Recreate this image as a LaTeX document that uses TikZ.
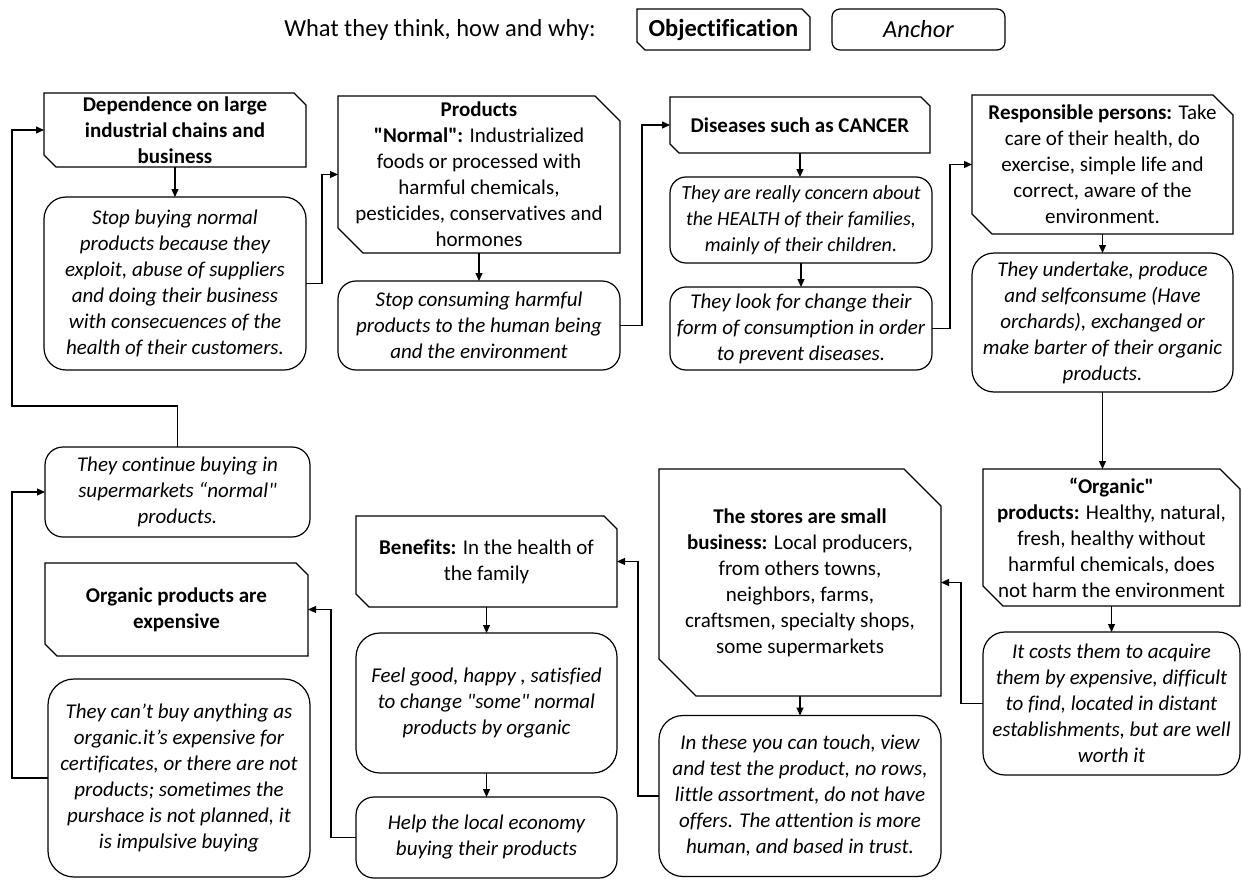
\documentclass[tikz,border=0pt]{standalone}
\usepackage{fontspec}
\setmainfont{Carlito}[Ligatures={TeXOff,CommonOff}]
\usetikzlibrary{arrows.meta,calc}
\newcommand{\fs}{\fontsize{21}{26}\selectfont}
\newcommand{\sfs}{\fontsize{20}{26}\selectfont}
\newcommand{\hfs}{\fontsize{24.5}{28}\selectfont}
\newcommand{\chbox}[2]{\draw[boxline] (#1.north west) -- ([xshift=-#2]#1.north east) -- ([yshift=-#2]#1.north east) -- (#1.south east) -- ([xshift=#2]#1.south west) -- ([yshift=#2]#1.south west) -- cycle;}
\tikzset{
  base/.style={inner sep=0pt, outer sep=0pt, align=center, font=\fs, rectangle},
  objbox/.style={base},
  ancbox/.style={base, draw, line width=1.2pt, rounded corners=18pt, font=\fs\itshape},
  boxline/.style={line width=1.2pt},
  arr/.style={line width=1.2pt, -{Triangle[length=8pt,width=7pt]}},
}
\begin{document}
\begin{tikzpicture}[x=1pt,y=-1pt]
\useasboundingbox (0,0) rectangle (1242,880);
% header
\node[base, font=\hfs] (hd) at (440,30) {What they think, how and why:};
\node[objbox, font=\hfs, minimum width=173pt, minimum height=41pt] (ko) at (723.5,29.5) {\textbf{Objectification}};
\chbox{ko}{8pt}
\node[ancbox, font=\hfs\itshape, rounded corners=8pt, minimum width=173pt, minimum height=41pt] (ka) at (918.5,29.5) {Anchor};
% top row
\node[objbox, minimum width=262pt, minimum height=74pt] (b1) at (175,130) {\textbf{Dependence on large}\\\textbf{industrial chains and}\\\textbf{business}};
\chbox{b1}{12pt}
\node[ancbox, rounded corners=22pt, minimum width=262pt, minimum height=173pt] (b2) at (175,283.5) {Stop buying normal\\products because they\\exploit, abuse of suppliers\\and doing their business\\with consecuences of the\\health of their customers.};
\node[objbox, minimum width=282pt, minimum height=157pt] (b3) at (479,174.5) {\textbf{Products}\\\textbf{"Normal":} Industrialized\\foods or processed with\\harmful chemicals,\\pesticides, conservatives and\\hormones};
\chbox{b3}{25pt}
\node[ancbox, minimum width=282pt, minimum height=89pt] (b4) at (479,325.5) {Stop consuming harmful\\products to the human being\\and the environment};
\node[objbox, minimum width=260pt, minimum height=56pt] (b5) at (800,125) {\textbf{Diseases such as CANCER}};
\chbox{b5}{9pt}
\node[ancbox, font=\sfs\itshape, rounded corners=16pt, minimum width=262pt, minimum height=86pt] (b6) at (801,220) {They are really concern about\\the HEALTH of their families,\\mainly of their children.};
\node[ancbox, rounded corners=16pt, minimum width=262pt, minimum height=83pt] (b7) at (801,328.5) {They look for change their\\form of consumption in order\\to prevent diseases.};
\node[objbox, minimum width=261pt, minimum height=139pt] (b8) at (1102.5,164.5) {\textbf{Responsible persons:} Take\\care of their health, do\\exercise, simple life and\\correct, aware of the\\environment.};
\chbox{b8}{20pt}
\node[ancbox, rounded corners=22pt, minimum width=261pt, minimum height=139pt] (b9) at (1102.5,322.5) {They undertake, produce\\and selfconsume (Have\\orchards), exchanged or\\make barter of their organic\\products.};
% right column lower
\node[objbox, minimum width=257pt, minimum height=137pt] (b10) at (1111.5,537.5) {\textbf{“Organic"}\\\textbf{products:} Healthy, natural,\\fresh, healthy without\\harmful chemicals, does\\not harm the environment};
\chbox{b10}{20pt}
\node[ancbox, rounded corners=22pt, minimum width=257pt, minimum height=143pt] (b11) at (1111.5,703.5) {It costs them to acquire\\them by expensive, difficult\\to find, located in distant\\establishments, but are well\\worth it};
\node[objbox, minimum width=282pt, minimum height=227pt] (b12) at (800,582.5) {\textbf{The stores are small}\\\textbf{business:} Local producers,\\from others towns,\\neighbors, farms,\\craftsmen, specialty shops,\\some supermarkets};
\chbox{b12}{37pt}
\node[ancbox, rounded corners=24pt, minimum width=282pt, minimum height=161pt] (b13) at (800,796) {In these you can touch, view\\and test the product, no rows,\\little assortment, do not have\\offers. The attention is more\\human, and based in trust.};
\node[objbox, minimum width=261pt, minimum height=91pt] (b14) at (486.5,561.5) {\textbf{Benefits:} In the health of\\the family};
\chbox{b14}{13pt}
\node[ancbox, rounded corners=24pt, minimum width=261pt, minimum height=140pt] (b15) at (486.5,703) {Feel good, happy , satisfied\\to change "some" normal\\products by organic};
\node[ancbox, minimum width=261pt, minimum height=81pt] (b16) at (486.5,837.5) {Help the local economy\\buying their products};
\node[ancbox, minimum width=265pt, minimum height=90pt] (b17) at (177.5,492) {They continue buying in\\supermarkets “normal"\\products.};
\node[objbox, minimum width=263pt, minimum height=93pt] (b18) at (176.5,609.5) {\textbf{Organic products are}\\\textbf{expensive}};
\chbox{b18}{12pt}
\node[ancbox, rounded corners=26pt, minimum width=262pt, minimum height=198pt] (b19) at (179,778) {They can’t buy anything as\\organic.it’s expensive for\\certificates, or there are not\\products; sometimes the\\purshace is not planned, it\\is impulsive buying};
% connectors
\draw[arr] (b1.south) -- (b2.north);
\draw[arr] (b2.east) -- ++(16,0) |- (b3.west);
\draw[arr] (b3.south) -- (b4.north);
\draw[arr] (b4.east) -- ++(22,0) |- (b5.west);
\draw[arr] (b5.south) -- (b5.south |- b6.north);
\draw[arr] (b6.south) -- (b6.south |- b7.north);
\draw[arr] (b7.east) -- ++(18,0) |- (b8.west);
\draw[arr] (b8.south) -- (b9.north);
\draw[arr] (b9.south) -- (b9.south |- b10.north);
\draw[arr] (b10.south) -- (b10.south |- b11.north);
\draw[arr] (b11.west) -- ++(-22,0) |- (b12.east);
\draw[arr] (b12.south) -- (b12.south |- b13.north);
\draw[arr] (b13.west) -- ++(-21,0) |- (b14.east);
\draw[arr] (b14.south) -- (b15.north);
\draw[arr] (b15.south) -- (b16.north);
\draw[arr] (b16.west) -- ++(-25,0) |- (b18.east);
\draw[arr] (b19.west) -- ++(-36,0) |- (b17.west);
\draw[arr] (b17.north) -- ++(0,-41) -| ([xshift=-32pt]b1.west) -- (b1.west);
\end{tikzpicture}
\end{document}
